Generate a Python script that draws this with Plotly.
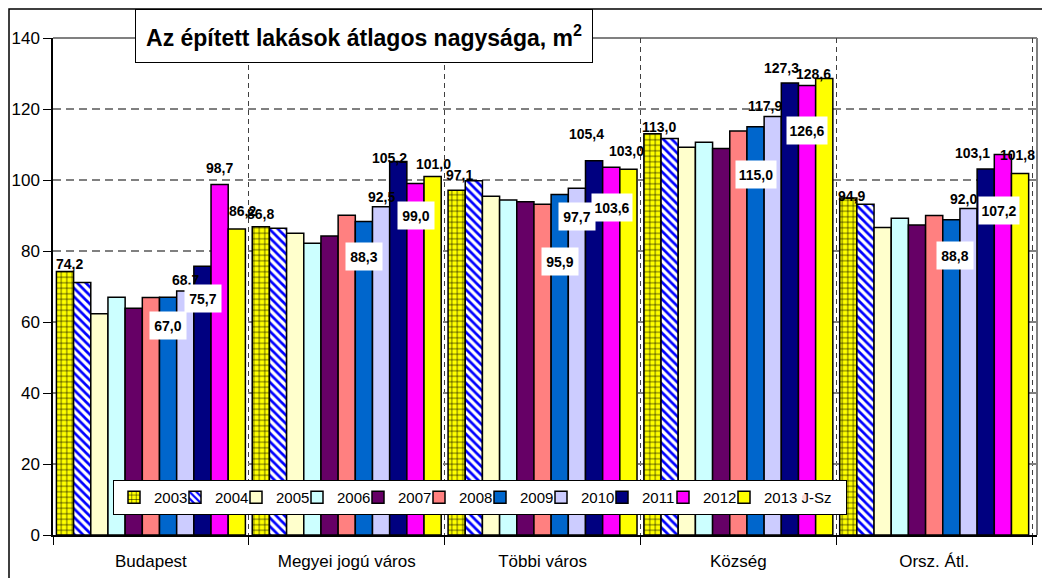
import plotly.graph_objects as go

# ---- data ----
categories = ["Budapest", "Megyei jogú város", "Többi város", "Község", "Orsz. Átl."]
years = ["2003", "2004", "2005", "2006", "2007", "2008", "2009", "2010", "2011", "2012", "2013 J-Sz"]

v2003 = [74.2, 86.8, 97.1, 113.0, 94.9]
v2004 = [71.1, 86.4, 99.8, 111.7, 93.2]
v2005 = [62.3, 85.0, 95.4, 109.2, 86.6]
v2006 = [67.0, 82.2, 94.4, 110.6, 89.2]
v2007 = [63.9, 84.2, 93.9, 108.9, 87.3]
v2008 = [66.9, 90.1, 93.2, 113.8, 90.0]
v2009 = [67.0, 88.3, 95.9, 115.0, 88.8]
v2010 = [68.7, 92.5, 97.7, 117.9, 92.0]
v2011 = [75.7, 105.2, 105.4, 127.3, 103.1]
v2012 = [98.7, 99.0, 103.6, 126.6, 107.2]
v2013 = [86.2, 101.0, 103.0, 128.6, 101.8]
series_values = [v2003, v2004, v2005, v2006, v2007, v2008, v2009, v2010, v2011, v2012, v2013]

y_ticks = [0, 20, 40, 60, 80, 100, 120, 140]

# ---- styles ----
colors = ["#FFFF00", "#FFFFFF", "#FFFFCC", "#CCFFFF", "#660066", "#FF8080",
          "#0066CC", "#CCCCFF", "#000080", "#FF00FF", "#FFFF00"]
patterns = [dict(shape="+", fgcolor="black", bgcolor="#FFFF00", size=5.5, solidity=0.2, fillmode="replace"),
            dict(shape="\\", fgcolor="#0000FF", bgcolor="#FFFFFF", size=6, solidity=0.45, fillmode="replace")]

# label placement: (group, series, kind, yshift px, xshift px)
label_layout = [
    (0, 0, "p", 8, 5), (0, 7, "p", 11, 0), (0, 9, "p", 17, 0), (0, 10, "p", 18, 5),
    (1, 0, "p", 13, 0), (1, 7, "p", 10, 0), (1, 8, "p", 4, -9), (1, 10, "p", 12, 0),
    (2, 0, "p", 15, 3), (2, 8, "p", 27, -8), (2, 10, "p", 18, -2),
    (3, 0, "p", 7, 7), (3, 7, "p", 10, -8), (3, 8, "p", 15, -9), (3, 10, "p", 4, -11),
    (4, 0, "p", 2, 4), (4, 7, "p", 9, -5), (4, 8, "p", 16, -13), (4, 10, "p", 19, -3),
    (0, 6, "b", -28, 0), (0, 8, "b", -32, 0),
    (1, 6, "b", -35, 0), (1, 9, "b", -32, 0),
    (2, 6, "b", -67, 0), (2, 7, "b", -28, 0), (2, 9, "b", -40, 0),
    (3, 6, "b", -48, 0), (3, 9, "b", -45, 0),
    (4, 6, "b", -36, 4), (4, 9, "b", -56, -4),
]

FONT = "Liberation Sans, Arial, sans-serif"
W, H = 1042, 578
ML, MR, MT, MB = 53, 5, 38, 43
BARGAP = 0.035

fig = go.Figure()
for i, (name, vals) in enumerate(zip(years, series_values)):
    marker = dict(color=colors[i], line=dict(color="black", width=1.5))
    if i < 2:
        marker["pattern"] = patterns[i]
    fig.add_trace(go.Bar(x=categories, y=vals, name=name, marker=marker))

# invisible spacer legend entry so the last legend label is not clipped
fig.add_trace(go.Scatter(x=[None], y=[None], mode="markers", name=" ",
                         marker=dict(opacity=0), hoverinfo="skip"))

# data labels
plot_w = W - ML - MR
bar_w = plot_w / len(categories) * (1 - BARGAP) / len(years)
n = len(years)
for g, s, kind, dy, dx in label_layout:
    val = series_values[s][g]
    txt = f"{val:.1f}".replace(".", ",")
    xs = (s - (n - 1) / 2) * bar_w + dx
    ann = dict(x=categories[g], y=val, xref="x", yref="y", text=f"<b>{txt}</b>",
               showarrow=False, xanchor="center", yanchor="middle",
               xshift=xs, yshift=dy,
               font=dict(family=FONT, size=14, color="black"))
    if kind == "b":
        ann.update(bgcolor="white", borderpad=0, width=36 if len(txt) <= 4 else 40, height=27)
    fig.add_annotation(**ann)

ph = H - MT - MB
# title box
fig.add_annotation(x=(135 - ML) / plot_w, y=(H - MB - 9) / ph, xref="paper", yref="paper",
                   xanchor="left", yanchor="top", showarrow=False,
                   text="<b>Az épített lakások átlagos nagysága, m<sup>2</sup></b>",
                   font=dict(family=FONT, size=23, color="black"),
                   bgcolor="white", bordercolor="black", borderwidth=1, borderpad=0,
                   width=456, height=52)

shapes = [
    # outer chart border
    dict(type="rect", xref="paper", yref="paper", x0=(9 - ML) / plot_w, x1=(1046 - ML) / plot_w,
         y0=-(585 - (H - MB)) / ph, y1=(H - MB - 9) / ph, line=dict(color="black", width=1.5),
         fillcolor="rgba(0,0,0,0)", layer="above"),
    # plot area top/right border
    dict(type="line", xref="paper", yref="paper", x0=0, x1=1, y0=1, y1=1,
         line=dict(color="#808080", width=2), layer="below"),
    dict(type="line", xref="paper", yref="paper", x0=1, x1=1, y0=0, y1=1,
         line=dict(color="#808080", width=2), layer="below"),
]

fig.update_layout(
    width=W, height=H,
    margin=dict(l=ML, r=MR, t=MT, b=MB, pad=0, autoexpand=False),
    paper_bgcolor="white", plot_bgcolor="white",
    barmode="group", bargap=BARGAP, bargroupgap=0,
    font=dict(family=FONT, color="black"),
    shapes=shapes,
    showlegend=True,
    legend=dict(orientation="h", x=(113 - ML) / plot_w, xanchor="left",
                y=(H - MB - 497.5) / ph, yanchor="middle",
                bgcolor="white", bordercolor="black", borderwidth=1,
                font=dict(family=FONT, size=15, color="black"),
                entrywidth=16, entrywidthmode="pixels", itemwidth=30,
                traceorder="normal"),
    xaxis=dict(showline=True, linecolor="black", linewidth=1.5,
               tickson="boundaries", ticks="outside", ticklen=8, tickcolor="black",
               showgrid=True, gridcolor="#404040", griddash="5px,4px", gridwidth=1,
               tickfont=dict(family=FONT, size=17, color="black"),
               ticklabelstandoff=10, automargin=False),
    yaxis=dict(range=[0, 140], tickvals=y_ticks, showline=True, linecolor="black", linewidth=1.5,
               ticks="outside", ticklen=8, tickcolor="black",
               showgrid=True, gridcolor="#808080", griddash="8px,5px", gridwidth=1.5,
               zeroline=False, automargin=False,
               tickfont=dict(family=FONT, size=17, color="black")),
)

fig.write_html("out.html", config={"displayModeBar": False},
               post_script="document.body.style.margin='0';document.body.style.overflow='hidden';")
